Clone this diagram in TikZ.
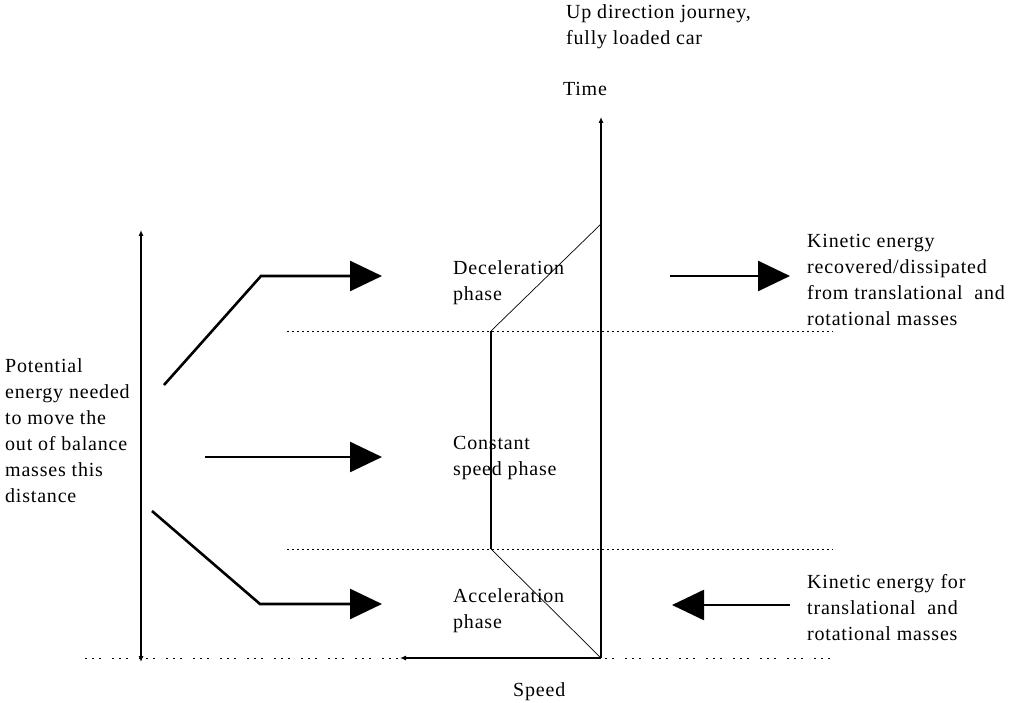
\documentclass[tikz,border=0pt]{standalone}
\usepackage{fontspec}
\setmainfont{Liberation Serif}[LetterSpace=4]
\usetikzlibrary{arrows.meta}
\tikzset{
  lbl/.style={anchor=base west, inner sep=0pt, font=\fontsize{20}{26}\selectfont},
  bigarrow/.style={line width=2.6pt, -{Triangle[length=32pt,width=30pt]}},
  thinaxis/.style={line width=1.1pt, -{Latex[length=6pt,width=5pt]}},
  profile/.style={line width=0.7pt},
  guide/.style={line width=0.9pt, dash pattern=on 2pt off 3pt},
  baseguide/.style={line width=0.9pt, dash pattern=on 2pt off 5pt on 2pt off 5pt on 2pt off 11pt}
}
\begin{document}
\begin{tikzpicture}[x=1pt,y=-1pt]
\useasboundingbox (0,0) rectangle (1012,703);

% coordinates
\coordinate (O) at (601,658);
\coordinate (Ttop) at (601,117);
\coordinate (Send) at (400,658);
\coordinate (P1) at (491,549);
\coordinate (P2) at (491,331);
\coordinate (P3) at (601,224);

\coordinate (G1a) at (287,331); \coordinate (G1b) at (833,331);
\coordinate (G2a) at (287,549); \coordinate (G2b) at (833,549);
\coordinate (G3a) at (85,658);  \coordinate (G3b) at (833,658);

\coordinate (Vt) at (141,230); \coordinate (Vb) at (141,662);

\coordinate (A1s) at (164,385); \coordinate (A1c) at (261,276); \coordinate (A1e) at (382,276);
\coordinate (A2s) at (205,457); \coordinate (A2e) at (382,457);
\coordinate (A3s) at (152,511); \coordinate (A3c) at (260,604); \coordinate (A3e) at (382,604);
\coordinate (R1s) at (670,276); \coordinate (R1e) at (790,276);
\coordinate (R2s) at (790,605); \coordinate (R2e) at (672,605);

% guides
\draw[guide] (G1a) -- (G1b);
\draw[guide] (G2a) -- (G2b);
\draw[baseguide] (G3a) -- (G3b);

% axes
\draw[thinaxis] (O) -- (Ttop);
\draw[thinaxis] (O) -- (Send);
\draw[line width=1.1pt, {Latex[length=6pt,width=5pt]}-{Latex[length=6pt,width=5pt]}] (Vt) -- (Vb);

% speed profile
\draw[profile] (O) -- (P1);
\draw[line width=1.4pt] (P1) -- (P2);
\draw[profile] (P2) -- (P3);

% big arrows
\draw[bigarrow] (A1s) -- (A1c) -- (A1e);
\draw[bigarrow] (A2s) -- (A2e);
\draw[bigarrow] (A3s) -- (A3c) -- (A3e);
\draw[bigarrow] (R1s) -- (R1e);
\draw[bigarrow] (R2s) -- (R2e);

% texts
\node[lbl] (up1) at (566,19) {Up direction journey,};
\node[lbl] (up2) at (566,45) {fully loaded car};
\node[lbl, anchor=base] (time) at (585,96) {Time};
\node[lbl] (speed) at (513,696) {Speed};

\node[lbl] (dec1) at (453,275) {Deceleration};
\node[lbl] (dec2) at (453,301) {phase};
\node[lbl] (con1) at (453,449) {Constant};
\node[lbl] (con2) at (453,475) {speed phase};
\node[lbl] (acc1) at (453,602) {Acceleration};
\node[lbl] (acc2) at (453,628) {phase};

\node[lbl] (k1) at (807,248) {Kinetic energy};
\node[lbl] (k2) at (807,274) {recovered/dissipated};
\node[lbl] (k3) at (807,300) {from translational\ \ and};
\node[lbl] (k4) at (807,326) {rotational masses};

\node[lbl] (kb1) at (807,588) {Kinetic energy for};
\node[lbl] (kb2) at (807,614) {translational\ \ and};
\node[lbl] (kb3) at (807,640) {rotational masses};

\node[lbl] (p1) at (5,372) {Potential};
\node[lbl] (p2) at (5,398) {energy needed};
\node[lbl] (p3) at (5,424) {to move the};
\node[lbl] (p4) at (5,450) {out of balance};
\node[lbl] (p5) at (5,476) {masses this};
\node[lbl] (p6) at (5,502) {distance};
\end{tikzpicture}
\end{document}
